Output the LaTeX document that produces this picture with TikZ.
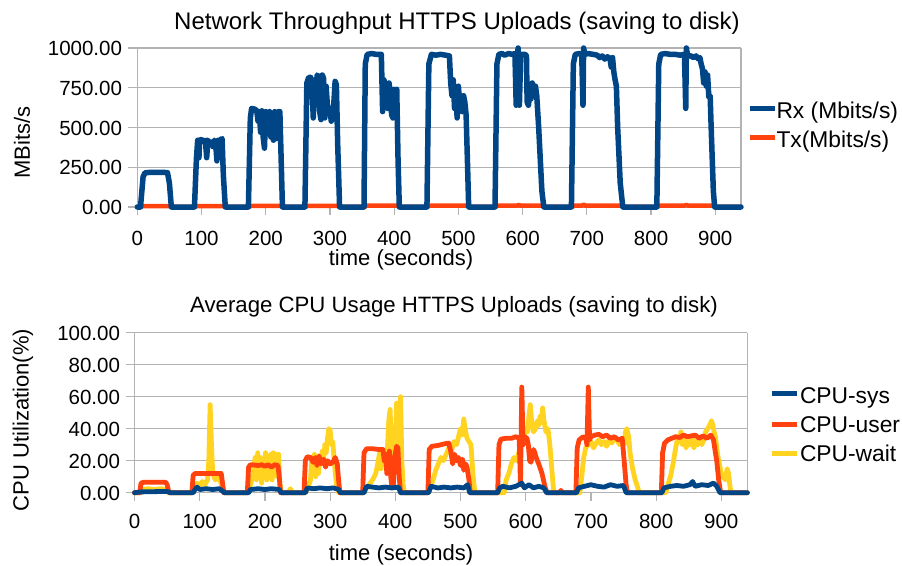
\documentclass[tikz,border=0pt]{standalone}
\usepackage{fontspec}
\setmainfont{Liberation Sans}
\definecolor{serblue}{HTML}{004586}
\definecolor{serorange}{HTML}{FF420E}
\definecolor{seryellow}{HTML}{FFD320}
\definecolor{gridgray}{HTML}{B3B3B3}
\begin{document}
\begin{tikzpicture}[x=1pt,y=-1pt,
  gridln/.style={draw=gridgray, line width=1.2pt},
  axisln/.style={draw=gridgray, line width=1.2pt},
  series/.style={line width=#1, line join=round, line cap=round},
  rxline/.style={series=5.5pt, draw=serblue},
  txline/.style={series=4.5pt, draw=serorange},
  sysline/.style={series=4.8pt, draw=serblue},
  userline/.style={series=4.8pt, draw=serorange},
  waitline/.style={series=4.8pt, draw=seryellow},
  legline/.style={line width=5pt},
  txt/.style={inner sep=0pt, outer sep=0pt, text=black},
  ticklbl/.style={txt, font=\fontsize{20.5}{24}\selectfont},
  titlelbl/.style={txt, font=\fontsize{24}{28}\selectfont},
  subtitlelbl/.style={txt, font=\fontsize{22.2}{26}\selectfont},
  axislbl/.style={txt, font=\fontsize{22}{26}\selectfont},
  leglbl/.style={txt, anchor=base west, font=\fontsize{22.8}{26}\selectfont},
]
\useasboundingbox (0,0) rectangle (902,565);
\fill[white] (0,0) rectangle (902,565);

% ---------------- network throughput chart ----------------
\node[titlelbl, anchor=base] (nettitle) at (457,29.5) {Network Throughput HTTPS Uploads (saving to disk)};
\begin{scope}[shift={(137.3pt,-207pt)}, x=0.6422pt, y=0.159pt]
  \foreach \v in {250,500,750,1000} \draw[gridln] (0,\v) -- (940,\v);
  \draw[axisln] (0,0) -- (940,0);
  \draw[axisln] (0,0) -- (0,1000);
  \draw[axisln] (940,0) -- (940,1000);
  \foreach \v/\lab in {0/0.00,250/250.00,500/500.00,750/750.00,1000/1000.00}{
    \draw[axisln] (0,\v) -- ++(-9pt,0pt);
    \node[ticklbl, anchor=base east, xshift=-15.3pt, yshift=-7.6pt] (ny\v) at (0,\v) {\lab};
  }
  \foreach \t in {0,100,...,900}{
    \draw[axisln] (\t,0) -- ++(0pt,-8pt);
    \node[ticklbl, anchor=base, yshift=-38pt] (nx\t) at (\t,0) {\t};
  }
  % transmitted traffic
  \draw[txline] plot coordinates {(0,1)(9,5)(52,5)(55,1)(90,1)(93,6)(135,6)(138,1)(174,1)(177,7)(225,7)(228,1)(262,1)(265,7)(314,7)(317,1)(354,1)(357,8)(406,8)(409,1)(452,1)(455,8)(515,8)(518,1)(558,1)(561,8)(592,8)(594,15)(596,8)(632,8)(635,1)(677,1)(680,8)(692,8)(695,15)(698,8)(755,8)(758,1)(810,1)(813,8)(852,8)(855,14)(858,8)(898,8)(901,1)(940,1)};
  % received traffic
  \draw[rxline] plot coordinates {(0,0)(5,0)(9,190)(12,215)(20,218)(30,218)(40,218)(47,216)(50,150)(53,0)
    (89,0)(92,300)(94,420)(96,310)(97,420)(100,425)(104,410)(106,420)(108,310)(110,420)(113,400)(116,410)(118,380)(120,420)(122,400)(124,290)(126,420)(128,405)(130,425)(132,430)(134,200)(137,0)
    (173,0)(176,560)(178,620)(183,615)(186,605)(188,540)(190,600)(192,470)(194,605)(196,440)(198,370)(200,600)(202,560)(204,460)(206,600)(208,440)(210,590)(212,420)(214,600)(216,430)(218,560)(220,600)(222,600)(224,300)(226,0)
    (261,0)(264,780)(267,815)(270,815)(272,760)(274,560)(276,800)(278,640)(280,830)(282,820)(284,600)(286,550)(288,830)(290,810)(292,560)(294,760)(296,640)(298,600)(300,620)(302,540)(304,570)(306,650)(308,790)(310,770)(312,400)(315,0)
    (353,0)(355,900)(358,960)(365,965)(372,960)(380,960)(382,600)(384,800)(386,760)(388,650)(390,620)(392,780)(394,720)(396,580)(398,560)(400,740)(402,700)(404,740)(406,300)(408,0)
    (451,0)(454,900)(458,960)(465,955)(472,960)(480,955)(486,950)(488,780)(490,700)(492,800)(494,620)(496,740)(498,560)(500,760)(502,640)(504,700)(506,600)(508,700)(510,660)(512,580)(514,300)(516,0)
    (557,0)(560,900)(563,960)(568,965)(572,955)(578,965)(584,960)(588,965)(590,640)(592,960)(593,1000)(595,640)(597,960)(600,960)(604,960)(606,950)(607,660)(609,640)(611,700)(613,680)(615,780)(617,740)(619,700)(620,760)(622,700)(625,500)(630,100)(633,0)
    (676,0)(679,900)(682,960)(688,965)(692,960)(694,640)(695,1000)(697,960)(702,965)(710,960)(716,955)(720,940)(724,950)(728,930)(732,945)(736,935)(738,880)(740,940)(742,850)(744,800)(746,760)(748,500)(752,150)(756,0)
    (809,0)(812,900)(815,960)(822,965)(830,960)(838,960)(845,955)(852,960)(854,620)(855,1000)(857,950)(862,950)(866,940)(870,950)(874,930)(876,940)(878,900)(880,870)(882,780)(884,850)(886,760)(888,830)(890,690)(892,700)(894,450)(897,100)(899,0)(940,0)};
\end{scope}
\node[axislbl, anchor=base] (netxlabel) at (401,265) {time (seconds)};
\node[axislbl, rotate=90] (netylabel) at (22,142.5) {MBits/s};
% legend
\draw[legline, serblue] (750,108.3) -- (774.5,108.3);
\node[leglbl] (legrx) at (776.5,118.3) {Rx (Mbits/s)};
\draw[legline, serorange] (750,137.8) -- (774.5,137.8);
\node[leglbl] (legtx) at (776.5,147.8) {Tx(Mbits/s)};

% ---------------- CPU usage chart ----------------
\node[subtitlelbl, anchor=base] (cputitle) at (454,312) {Average CPU Usage HTTPS Uploads (saving to disk)};
\begin{scope}[shift={(134.5pt,-492.7pt)}, x=0.652pt, y=1.6pt]
  \foreach \v in {20,40,60,80,100} \draw[gridln] (0,\v) -- (940,\v);
  \draw[axisln] (0,0) -- (940,0);
  \draw[axisln] (0,0) -- (0,100);
  \draw[axisln] (940,0) -- (940,100);
  \foreach \v/\lab in {0/0.00,20/20.00,40/40.00,60/60.00,80/80.00,100/100.00}{
    \draw[axisln] (0,\v) -- ++(-9pt,0pt);
    \node[ticklbl, anchor=base east, xshift=-14.5pt, yshift=-7.5pt] (cy\v) at (0,\v) {\lab};
  }
  \foreach \t in {0,100,...,900}{
    \draw[axisln] (\t,0) -- ++(0pt,-8pt);
    \node[ticklbl, anchor=base, yshift=-35.3pt] (cx\t) at (\t,0) {\t};
  }
  % io wait
  \draw[waitline] plot coordinates {(0,0)(10,0)(12,2)(20,2.5)(30,2)(40,2.5)(48,2)(52,0)
    (88,0)(92,3)(96,6)(100,4)(104,7)(108,5)(112,8)(114,20)(116,55)(118,30)(120,12)(124,8)(128,10)(132,7)(135,2)(138,0)
    (174,0)(178,5)(182,12)(185,22)(187,8)(189,25)(191,10)(193,22)(195,6)(197,20)(199,12)(201,25)(203,8)(205,22)(207,10)(209,24)(211,8)(213,25)(215,12)(217,24)(219,10)(221,24)(223,5)(225,0)
    (236,0)(239,2.5)(242,0)
    (262,0)(266,3)(270,8)(272,22)(274,15)(276,24)(278,10)(280,20)(282,12)(284,22)(286,18)(288,26)(290,20)(292,30)(294,25)(296,34)(298,40)(300,39)(302,30)(304,32)(306,22)(308,12)(310,5)(313,0)
    (352,0)(356,3)(360,5)(365,8)(370,12)(373,18)(376,25)(378,15)(380,22)(382,18)(384,25)(386,20)(388,28)(390,45)(392,52)(394,30)(396,20)(398,15)(400,30)(402,56)(404,25)(406,40)(408,60)(410,20)(412,5)(414,0)
    (450,0)(454,4)(458,8)(462,14)(466,18)(470,22)(474,20)(478,24)(482,28)(486,26)(490,32)(494,30)(497,35)(500,40)(503,36)(505,46)(507,40)(510,34)(513,32)(516,30)(519,12)(522,0)
    (567,0)(570,8)(574,12)(578,18)(582,22)(586,20)(590,26)(594,30)(597,35)(600,40)(603,38)(605,48)(607,55)(609,45)(612,38)(615,40)(618,45)(620,42)(622,48)(624,44)(626,53)(628,45)(631,38)(634,40)(637,30)(640,15)(643,0)
    (683,0)(686,10)(689,22)(692,28)(696,30)(700,32)(704,28)(708,31)(712,33)(716,30)(720,32)(724,29)(728,33)(732,31)(736,34)(740,33)(744,30)(748,32)(751,30)(753,38)(755,40)(758,35)(760,25)(764,15)(768,8)(772,3)(774,0)
    (815,0)(818,5)(822,10)(826,18)(830,28)(833,34)(836,32)(838,38)(840,30)(843,34)(846,28)(849,32)(852,30)(855,35)(858,28)(861,32)(864,30)(867,34)(870,30)(873,33)(876,38)(879,40)(882,42)(885,45)(887,42)(889,38)(891,35)(893,28)(895,22)(897,18)(900,12)(903,10)(906,8)(909,15)(911,12)(913,5)(915,0)(940,0)};
  % user time
  \draw[userline] plot coordinates {(0,0)(8,0)(10,6)(14,6.5)(48,6.5)(50,5)(53,0)
    (88,0)(90,11)(93,12)(133,12)(135,6)(137,0)
    (173,0)(175,16)(178,17.5)(190,17)(195,17.5)(200,16.5)(205,17.5)(210,16)(215,17.5)(220,17)(222,10)(224,0)
    (260,0)(262,20)(265,22.5)(270,22)(274,19)(277,22)(280,17)(283,23)(286,18)(290,21)(293,16)(296,20)(300,18)(304,19)(308,22)(311,18)(313,8)(315,0)
    (350,0)(352,25)(356,27.5)(365,27.5)(375,27)(381,27)(383,20)(385,24)(387,12)(389,22)(391,26)(393,10)(395,3)(397,5)(399,22)(402,29)(404,28)(406,10)(408,0)
    (450,0)(452,27)(456,29)(465,29.5)(475,30.5)(482,31)(485,26)(488,18)(491,24)(494,20)(497,22)(500,17)(503,21)(505,14)(508,18)(510,16)(513,8)(515,0)
    (557,0)(559,30)(562,33.5)(570,34)(578,34)(585,35)(590,34)(592,5)(594,66)(596,30)(598,35)(602,34)(604,30)(606,20)(608,19)(610,23)(612,27)(614,25)(616,22)(620,18)(625,12)(630,3)(633,0)
    (652,0)(654,1.5)(656,0)
    (677,0)(679,28)(682,33)(688,35)(692,34)(694,30)(696,66)(698,33)(700,35)(706,36)(712,36.5)(718,35)(724,36)(730,34)(736,35)(742,33)(748,34)(751,20)(754,5)(756,0)
    (808,0)(810,25)(813,31)(818,33)(824,34)(830,35)(836,34.5)(842,36)(848,35)(854,35.5)(860,36)(866,34)(872,35.5)(878,34)(884,36)(888,33)(891,25)(893,20)(896,8)(899,0)(940,0)};
  % system time
  \draw[sysline] plot coordinates {(0,0)(10,0.5)(50,0.8)(55,0)
    (90,0)(93,2)(96,3.5)(100,2)(110,2.5)(120,2)(130,2.5)(135,1)(138,0)
    (175,0)(178,2)(190,2.5)(200,2)(210,2.5)(222,2)(225,0)
    (262,0)(265,3)(275,2.5)(285,3)(295,2.5)(305,3)(313,2)(316,0)
    (352,0)(356,4)(365,3.5)(375,3)(385,3.5)(395,3)(405,3.5)(408,0)
    (451,0)(455,4)(465,3)(475,3.5)(485,3)(495,3.5)(505,3)(511,5)(514,0)
    (557,0)(560,3)(565,4)(575,3)(585,4)(594,6)(598,3)(605,5)(612,3)(620,4)(628,3)(632,0)
    (678,0)(681,3)(690,4)(700,5)(710,4)(720,3.5)(730,5)(740,4)(750,4.5)(754,0)
    (809,0)(812,3)(822,4)(832,4.5)(842,4)(852,5)(856,7)(860,4)(870,5)(880,4.5)(888,6)(893,4)(898,0)(940,0)};
\end{scope}
\node[axislbl, anchor=base] (cpuxlabel) at (401,560.5) {time (seconds)};
\node[axislbl, rotate=90] (cpuylabel) at (23,420) {CPU Utilization(\%)};
% legend
\draw[legline, serblue] (772,393.3) -- (797,393.3);
\node[leglbl] (legsys) at (800,403.3) {CPU-sys};
\draw[legline, serorange] (772,424) -- (797,424);
\node[leglbl] (leguser) at (800,432.7) {CPU-user};
\draw[legline, seryellow] (772,453) -- (797,453);
\node[leglbl] (legwait) at (800,461.7) {CPU-wait};
\end{tikzpicture}
\end{document}
